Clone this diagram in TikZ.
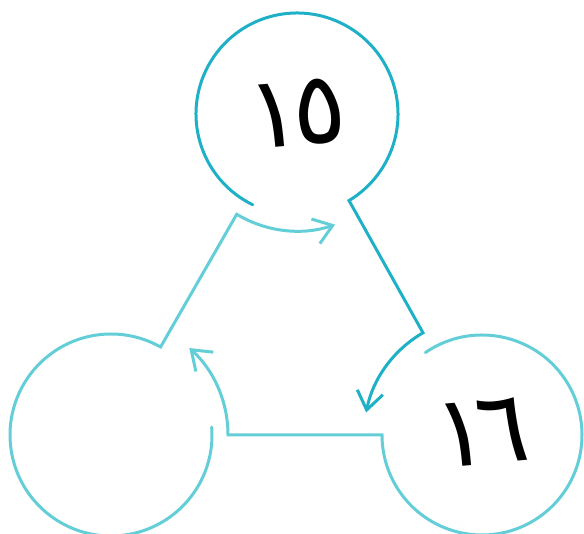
\documentclass[tikz,border=0pt]{standalone}
\usepackage{fontspec}
\usepackage{tikz}
\usetikzlibrary{arrows.meta,calc}
\newfontfamily\arabicfont[Script=Arabic]{DejaVu Sans}
\newcommand{\digitfont}{\arabicfont\fontsize{100pt}{100pt}\selectfont}
\definecolor{tealdark}{RGB}{30,176,198}
\definecolor{teallight}{RGB}{100,206,216}

\begin{document}
\begin{tikzpicture}[
  x=1pt,y=1pt,
  ring/.style={circle,minimum size=202pt,inner sep=0pt,font=\digitfont,text=black},
  loopdark/.style={draw=tealdark,line width=3pt,line cap=round},
  looplight/.style={draw=teallight,line width=3pt,line cap=round},
  arr/.style={-{Straight Barb[length=18pt,width=26pt]}}
]
  \useasboundingbox (0,0) rectangle (584,534);
  \node[ring,rotate=5] (n15) at (297,420) {١\kern-8pt٥};
  \node[ring,rotate=5] (n16) at (482,99)  {\raisebox{5pt}{١\kern-12pt٦}};
  \node[ring]          (nL)  at (111,99)  {};
  \draw[loopdark,arr]  ($(n15)+(244:101pt)$) arc[start angle=244,end angle=-59,radius=101pt]
    -- ($(n16)+(120:118pt)$) arc[start angle=120,end angle=169,radius=118pt];
  \draw[looplight,arr] ($(n16)+(124.5:100pt)$) arc[start angle=124.5,end angle=-180,radius=100pt]
    -- ($(nL)+(0:117pt)$) arc[start angle=0,end angle=48,radius=117pt];
  \draw[looplight,arr] ($(nL)+(4.5:101pt)$) arc[start angle=4.5,end angle=-299.4,radius=101pt]
    -- ($(n15)+(239:117pt)$) arc[start angle=239,end angle=289,radius=117pt];
\end{tikzpicture}
\end{document}
